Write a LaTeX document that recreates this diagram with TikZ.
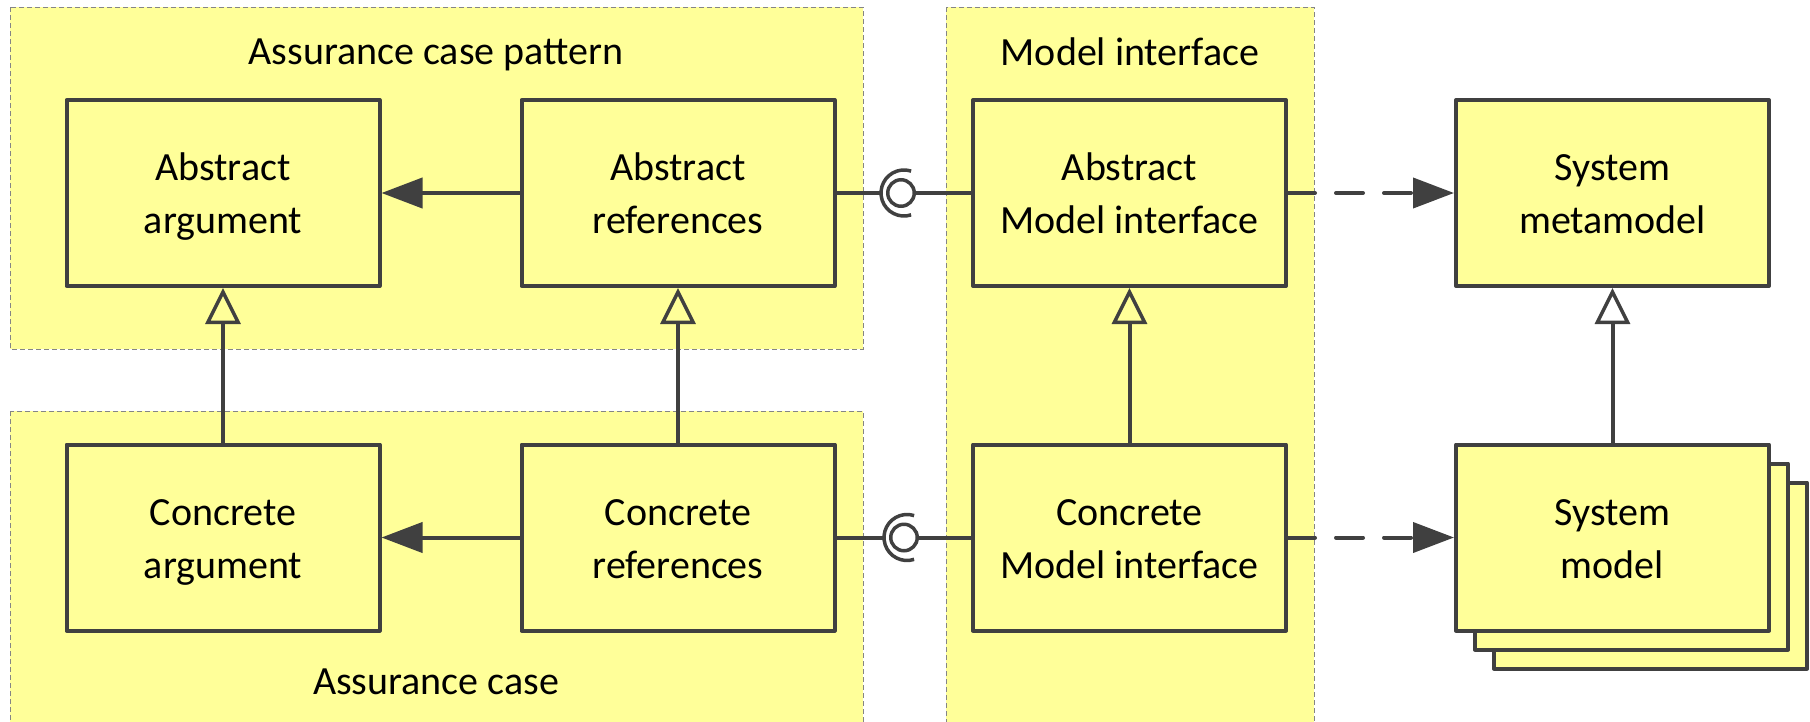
\documentclass[tikz,border=0pt]{standalone}
\usepackage{fontspec}
\setmainfont{Carlito}
\usetikzlibrary{arrows.meta}
\definecolor{paleyellow}{HTML}{FFFF99}
\definecolor{inkgray}{HTML}{404040}
\definecolor{framegray}{HTML}{858585}

% two-line block label with fixed first-line height and last-line depth
\newcommand{\twolines}[2]{\rule{0pt}{38pt}#1\\#2\rule[-10pt]{0pt}{10pt}}

\begin{document}
\begin{tikzpicture}[x=1pt,y=-1pt,
  container/.style={fill=paleyellow, draw=framegray, line width=1pt, dash pattern=on 5pt off 3pt},
  grouplabel/.style={font=\fontsize{40}{48}\selectfont, inner sep=0pt, anchor=base},
  block/.style={draw=inkgray, fill=paleyellow, line width=4pt, line join=round,
    minimum width=313pt, minimum height=186pt, inner sep=0pt, align=center,
    font=\fontsize{40}{53}\selectfont},
  conn/.style={draw=inkgray, line width=4pt},
  assoc/.style={conn, -{Triangle[length=41pt,width=30pt]}},
  gen/.style={conn, -{Triangle[open,length=36pt,width=35pt,line width=3.5pt]}},
  dep/.style={conn, line cap=round, dash pattern=on 27pt off 21pt,
    -{Triangle[length=41pt,width=30pt]}},
  lolly/.style={draw=inkgray, line width=3.5pt},
  ball/.style={circle, draw=inkgray, line width=3.5pt, minimum size=26.5pt, inner sep=0pt, fill=white},
]
\useasboundingbox (0,0) rectangle (1810,721);

% package / group frames
\path[container] (10,7) rectangle (863,349);
\path[container] (10,411) rectangle (863,740);
\path[container] (946,7) rectangle (1314,740);

\node[grouplabel] (lblpattern) at (436,64) {Assurance case pattern};
\node[grouplabel] (lblcase) at (436,694) {Assurance case};
\node[grouplabel] (lblmodel) at (1130,65) {Model interface};

% abstract row
\node[block] (AA)  at (223,193)    {\twolines{Abstract}{argument}};
\node[block] (AR)  at (678,193)    {\twolines{Abstract}{references}};
\node[block] (AMI) at (1129.5,193) {\twolines{Abstract}{Model interface}};
\node[block] (SMM) at (1612.5,193) {\twolines{System}{metamodel}};

% concrete row
\node[block] (CA)  at (223,537.5)    {\twolines{Concrete}{argument}};
\node[block] (CR)  at (678,537.5)    {\twolines{Concrete}{references}};
\node[block] (CMI) at (1129.5,537.5) {\twolines{Concrete}{Model interface}};

% stacked system models
\node[block] (SMb2) at (1650.5,575.5) {};
\node[block] (SMb1) at (1631.5,556.5) {};
\node[block] (SM)   at (1612.5,537.5) {\twolines{System}{model}};

% associations
\draw[assoc] (AR.west) -- (AA.east);
\draw[assoc] (CR.west) -- (CA.east);

% generalizations
\draw[gen] (CA.north) -- (AA.south);
\draw[gen] (CR.north) -- (AR.south);
\draw[gen] (CMI.north) -- (AMI.south);
\draw[gen] (SM.north) -- (SMM.south);

% dependencies
\draw[dep] (AMI.east) -- (SMM.west);
\draw[dep] (CMI.east) -- (SM.west);

% ball-and-socket, top row
\coordinate (sockT) at (904,193);
\coordinate (sockTl) at (881,193);
\node[ball] (ballT) at (901,193) {};
\draw[conn] (AR.east) -- (sockTl);
\draw[lolly] ([shift={(72:23)}]sockT) arc[start angle=72, end angle=288, radius=23];
\draw[conn] (ballT.east) -- (AMI.west);

% ball-and-socket, bottom row
\coordinate (sockB) at (907,537.5);
\coordinate (sockBl) at (884,537.5);
\node[ball] (ballB) at (904,537.5) {};
\draw[conn] (CR.east) -- (sockBl);
\draw[lolly] ([shift={(72:23)}]sockB) arc[start angle=72, end angle=288, radius=23];
\draw[conn] (ballB.east) -- (CMI.west);
\end{tikzpicture}
\end{document}
